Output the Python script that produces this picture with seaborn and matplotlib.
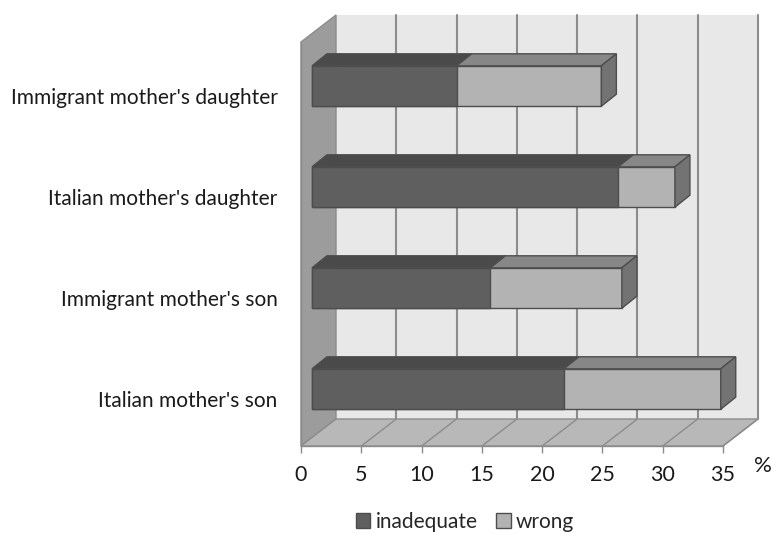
import matplotlib.pyplot as plt
import matplotlib.patches as mpatches
import matplotlib.transforms as mtransforms
import numpy as np
import pandas as pd
import seaborn as sns

# data (percent)
categories = ["Immigrant mother's daughter", "Italian mother's daughter",
              "Immigrant mother's son", "Italian mother's son"]
inadequate = [12.0, 25.4, 14.8, 20.9]
wrong = [12.0, 4.7, 10.9, 13.0]
x_ticks = [0, 5, 10, 15, 20, 25, 30, 35]

DARK = "#5f5f5f"
DARK_TOP = "#4a4a4a"
LIGHT = "#b3b3b3"
LIGHT_TOP = "#878787"
SIDE = "#737373"
EDGE = "#4d4d4d"


def main():
    sns.set_theme(style="white")
    plt.rcParams["font.family"] = ["Lato", "DejaVu Sans"]

    df = pd.DataFrame({"cat": categories, "inadequate": inadequate, "wrong": wrong})
    df["total"] = df["inadequate"] + df["wrong"]

    fig = plt.figure(figsize=(7.72, 5.34), dpi=100)
    W, H = 772, 534
    x0, x1, y0, y1 = 301, 723, 42, 446  # front plane in pixels
    ax = fig.add_axes([x0 / W, 1 - y1 / H, (x1 - x0) / W, (y1 - y0) / H])
    ax.set_xlim(0, 35)
    ax.set_ylim(3.5, -0.5)

    pxx = (x1 - x0) / 35.0   # pixels per percent
    pxy = (y1 - y0) / 4.0    # pixels per category

    # --- walls ---
    wdx, wdy = 35 / pxx, 27 / pxy
    ax.add_patch(mpatches.Rectangle((wdx, -0.5 - wdy), 35, 4, facecolor="#e8e8e8",
                                    edgecolor="none", clip_on=False, zorder=0))
    for k in x_ticks[1:]:
        ax.plot([k + wdx, k + wdx], [-0.5 - wdy, 3.5 - wdy], color="#8c8c8c",
                lw=1.5, clip_on=False, zorder=1)
    side = [(0, -0.5), (0, 3.5), (wdx, 3.5 - wdy), (wdx, -0.5 - wdy)]
    ax.add_patch(mpatches.Polygon(side, facecolor="#9c9c9c", edgecolor="#8c8c8c",
                                  lw=1, clip_on=False, zorder=1))
    floor = [(0, 3.5), (35, 3.5), (35 + wdx, 3.5 - wdy), (wdx, 3.5 - wdy)]
    ax.add_patch(mpatches.Polygon(floor, facecolor="#b8b8b8", edgecolor="#8c8c8c",
                                  lw=1, clip_on=False, zorder=1))
    for k in x_ticks[1:]:
        ax.plot([k, k + wdx], [3.5, 3.5 - wdy], color="#8c8c8c", lw=1,
                clip_on=False, zorder=1)

    # --- bars (front faces) ---
    n_before = len(ax.patches)
    sns.barplot(data=df, x="total", y="cat", color=LIGHT, width=0.4,
                edgecolor=EDGE, linewidth=1, saturation=1, ax=ax, zorder=3)
    sns.barplot(data=df, x="inadequate", y="cat", color=DARK, width=0.4,
                edgecolor=EDGE, linewidth=1, saturation=1, ax=ax, zorder=4)
    ax.set_xlim(0, 35)
    ax.set_ylim(3.5, -0.5)

    shift = ax.transData + mtransforms.ScaledTranslation(11 / 100, 6.5 / 100,
                                                         fig.dpi_scale_trans)
    for p in ax.patches[n_before:]:
        p.set_transform(shift)

    # top and end faces
    bdx, bdy = 15 / pxx, 12 / pxy
    for i, (a, t) in enumerate(zip(df["inadequate"], df["total"])):
        top = i - 0.2
        for xa, xb, col in [(0, a, DARK_TOP), (a, t, LIGHT_TOP)]:
            poly = [(xa, top), (xb, top), (xb + bdx, top - bdy), (xa + bdx, top - bdy)]
            ax.add_patch(mpatches.Polygon(poly, facecolor=col, edgecolor=EDGE, lw=1,
                                          transform=shift, clip_on=False, zorder=3))
        end = [(t, top), (t + bdx, top - bdy), (t + bdx, i + 0.2 - bdy), (t, i + 0.2)]
        ax.add_patch(mpatches.Polygon(end, facecolor=SIDE, edgecolor=EDGE, lw=1,
                                      transform=shift, clip_on=False, zorder=3))

    # --- axes styling ---
    for s in ["top", "right"]:
        ax.spines[s].set_visible(False)
    for s in ["left", "bottom"]:
        ax.spines[s].set_color("#8c8c8c")
        ax.spines[s].set_linewidth(1)
        ax.spines[s].set_zorder(2)
    ax.set_xticks(x_ticks)
    ax.set_xticklabels([str(v) for v in x_ticks], fontsize=15.5, color="#1a1a1a")
    ax.set_yticks(np.arange(4) + 0.03)
    ax.set_yticklabels(categories, fontsize=15, color="#1a1a1a")
    ax.set_yticks(np.arange(-0.5, 4, 1), minor=True)
    ax.tick_params(axis="y", which="major", length=0, pad=17)
    ax.tick_params(axis="y", which="minor", length=5, color="#8c8c8c", width=1)
    ax.tick_params(axis="x", length=5, color="#8c8c8c", width=1, pad=9, bottom=True)
    ax.set_xlabel("")
    ax.set_ylabel("")
    ax.grid(False)
    ax.patch.set_visible(False)

    fig.text(763 / W, 1 - 466 / H, "%", fontsize=16, ha="center", va="center",
             color="#1a1a1a")

    handles = [mpatches.Patch(facecolor=DARK, edgecolor=EDGE, label="inadequate"),
               mpatches.Patch(facecolor=LIGHT, edgecolor=EDGE, label="wrong")]
    fig.legend(handles=handles, loc="center", bbox_to_anchor=(465 / W, 1 - 522 / H),
               ncol=2, frameon=False, fontsize=15, handlelength=0.7,
               handleheight=0.7, handletextpad=0.25, columnspacing=0.9)

    fig.savefig("out.png", dpi=100)


if __name__ == "__main__":
    main()
